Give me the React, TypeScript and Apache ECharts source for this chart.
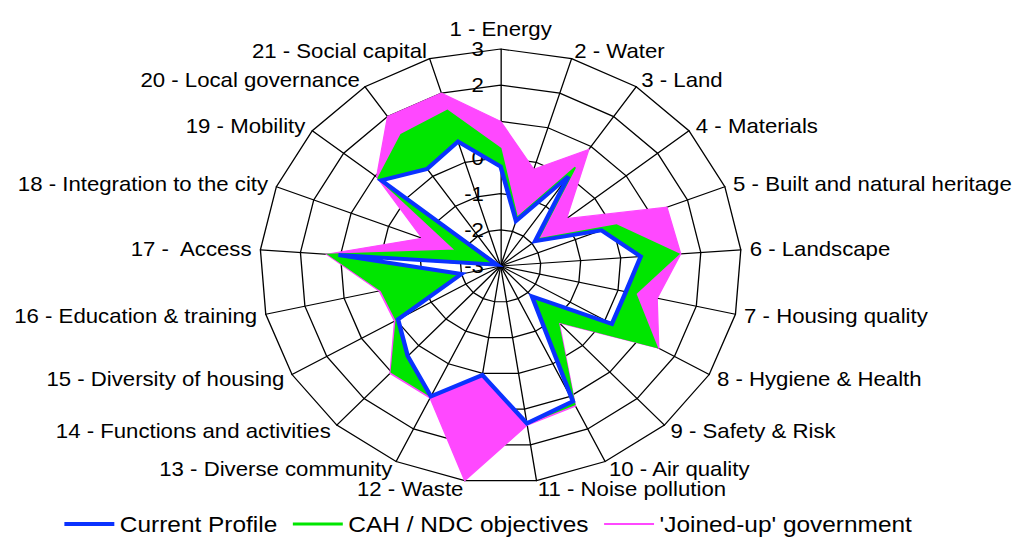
import React, { useEffect, useRef } from 'react';
import * as echarts from 'echarts';

// ---- data -------------------------------------------------------------
const indicatorNames = [
  '1 - Energy',
  '2 - Water',
  '3 - Land',
  '4 - Materials',
  '5 - Built and natural heritage',
  '6 - Landscape',
  '7 - Housing quality',
  '8 - Hygiene & Health',
  '9 - Safety & Risk',
  '10 - Air quality',
  '11 - Noise pollution',
  '12 - Waste',
  '13 - Diverse community',
  '14 - Functions and activities',
  '15 - Diversity of housing',
  '16 - Education & training',
  '17 -  Access',
  '18 - Integration to the city',
  '19 - Mobility',
  '20 - Local governance',
  '21 - Social capital',
];

const currentProfile = [-0.25, -1.7, 0.0, -1.9, -0.3, 0.5, 0.2, 0.2, -1.85, 1.15, 1.4, 0.05, 1.0, 0.4, -0.05, -2.0, 1.05, -2.9, 0.8, 0.25, 0.6];
const cahNdcObjectives = [0.25, -1.6, 0.3, -1.8, 0.1, 1.45, 0.45, 1.5, -0.9, 1.25, 1.4, 0.05, 1.0, 1.0, 0.0, 0.05, 1.3, -1.8, 0.9, 1.4, 1.5];
const joinedUpGovernment = [1.0, -0.2, 0.9, -0.9, 1.45, 1.5, 1.0, 1.55, -0.85, 1.3, 1.45, 3.0, 1.05, 1.05, 0.05, 0.1, 1.35, -0.9, 0.95, 2.0, 2.0];

const seriesNames = ['Current Profile', 'CAH / NDC objectives', "'Joined-up' government"];
const AXIS_MIN = -3;
const AXIS_MAX = 3;
const AXIS_SPLITS = 6;

// ---- style ------------------------------------------------------------
const FONT = 'Arial, "Liberation Sans", sans-serif';
const BLUE = '#0a32ff';
const GREEN = '#00e600';
const MAGENTA = '#ff48ff';
const SCALE_X = 1.11;
const CHART_W = 920;
const CHART_H = 538;
const CX = 451;
const CY = 266;
const R = 217;

const N = indicatorNames.length;

function pathFor(api: any, outer: number[], inner?: number[]) {
  let d = '';
  for (let i = 0; i < N; i++) {
    const p = api.coord([outer[i], i]);
    d += (i === 0 ? 'M' : 'L') + p[0].toFixed(2) + ' ' + p[1].toFixed(2) + ' ';
  }
  d += 'Z ';
  if (inner) {
    for (let k = 0; k < N; k++) {
      const i = (N - k) % N;
      const p = api.coord([inner[i], i]);
      d += (k === 0 ? 'M' : 'L') + p[0].toFixed(2) + ' ' + p[1].toFixed(2) + ' ';
    }
    d += 'Z';
  }
  return d;
}

export default function App() {
  const ref = useRef<HTMLDivElement>(null);

  useEffect(() => {
    if (!ref.current) return;
    const chart = echarts.init(ref.current, undefined, { renderer: 'svg' });

    // radar draws indicators counter-clockwise; reorder so they run clockwise
    const radarOrder = [0];
    for (let i = N - 1; i >= 1; i--) radarOrder.push(i);

    const labelStyle = { show: true, fontSize: 20, color: '#000', fontFamily: FONT, margin: 15 };

    chart.setOption({
      animation: false,
      backgroundColor: '#fff',
      radar: {
        center: [CX, CY],
        radius: R,
        startAngle: 90,
        shape: 'polygon',
        splitNumber: AXIS_SPLITS,
        nameGap: 8,
        indicator: radarOrder.map((i) => {
          const ind: any = { name: indicatorNames[i], min: AXIS_MIN, max: AXIS_MAX };
          if (i === 0) ind.axisLabel = labelStyle;
          return ind;
        }),
        axisName: { color: '#000', fontSize: 20, fontFamily: FONT },
        splitLine: { lineStyle: { color: '#000', width: 1.2 } },
        splitArea: { show: false },
        axisLine: { lineStyle: { color: '#000', width: 1.2 } },
        axisTick: { show: false },
        axisLabel: { show: false },
      },
      polar: { center: [CX, CY], radius: R },
      angleAxis: { type: 'value', min: 0, max: N, startAngle: 90, clockwise: true, show: false },
      radiusAxis: { type: 'value', min: AXIS_MIN, max: AXIS_MAX, show: false },
      legend: {
        left: 53,
        top: 508,
        itemWidth: 45,
        itemHeight: 8,
        itemGap: 14,
        selectedMode: false,
        textStyle: { fontSize: 22, color: '#000', fontFamily: FONT },
        data: [
          { name: seriesNames[0], icon: 'path://M0 0M0 8M0 2H45V6H0Z', itemStyle: { color: BLUE, borderWidth: 0 } },
          { name: seriesNames[1], icon: 'path://M0 0M0 8M0 2.5H45V5.5H0Z', itemStyle: { color: GREEN, borderWidth: 0 } },
          { name: seriesNames[2], icon: 'path://M0 0M0 8M0 3H45V5H0Z', itemStyle: { color: MAGENTA, borderWidth: 0 } },
        ],
      },
      series: [
        {
          type: 'custom',
          name: seriesNames[2],
          coordinateSystem: 'polar',
          silent: true,
          itemStyle: { color: MAGENTA },
          data: [[0, 0]],
          renderItem: (_p: any, api: any) => ({
            type: 'path',
            shape: { pathData: pathFor(api, joinedUpGovernment, currentProfile) },
            style: { fill: MAGENTA, stroke: MAGENTA, lineWidth: 1.2 },
          }),
        },
        {
          type: 'custom',
          name: seriesNames[1],
          coordinateSystem: 'polar',
          silent: true,
          itemStyle: { color: GREEN },
          data: [[0, 0]],
          renderItem: (_p: any, api: any) => ({
            type: 'path',
            shape: { pathData: pathFor(api, cahNdcObjectives, currentProfile) },
            style: { fill: GREEN, stroke: GREEN, lineWidth: 1.5 },
          }),
        },
        {
          type: 'custom',
          name: seriesNames[0],
          coordinateSystem: 'polar',
          silent: true,
          itemStyle: { color: BLUE },
          data: [[0, 0]],
          renderItem: (_p: any, api: any) => ({
            type: 'polygon',
            shape: { points: currentProfile.map((v, i) => api.coord([v, i])) },
            style: { fill: 'none', stroke: BLUE, lineWidth: 4, lineJoin: 'miter' },
          }),
        },
      ],
    });

    return () => chart.dispose();
  }, []);

  return (
    <div style={{ position: 'fixed', left: 0, top: 0, width: 1021, height: 538, overflow: 'hidden', background: '#fff' }}>
      <div
        ref={ref}
        style={{ width: CHART_W, height: CHART_H, transform: `scaleX(${SCALE_X})`, transformOrigin: '0 0' }}
      />
    </div>
  );
}
